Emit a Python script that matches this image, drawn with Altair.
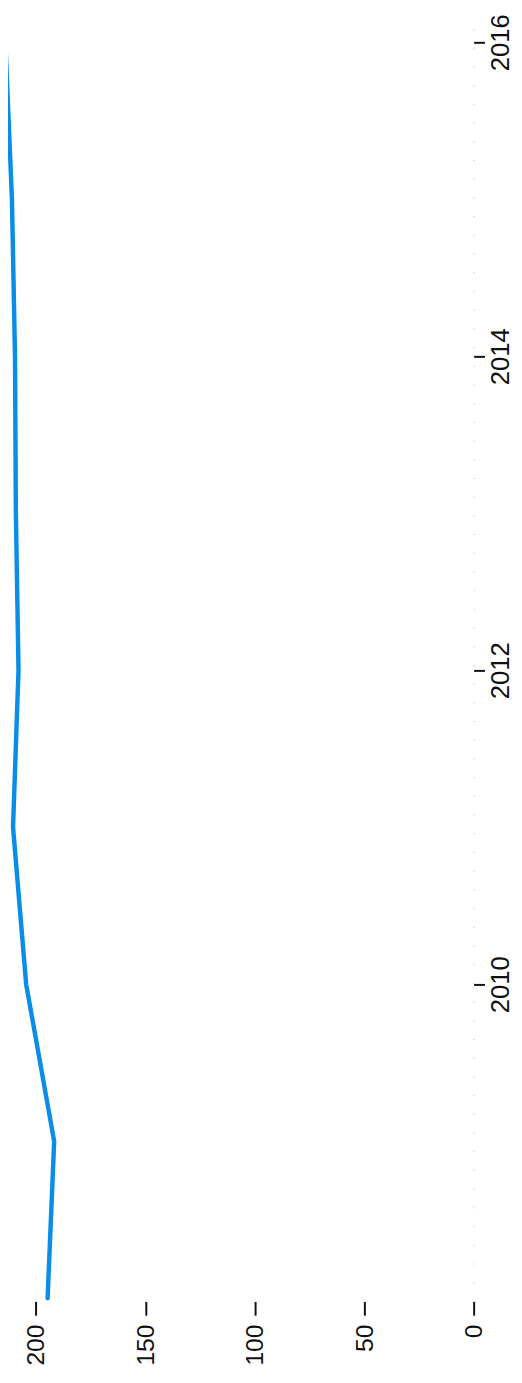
import altair as alt
import pandas as pd

years = [2008, 2009, 2010, 2011, 2012, 2013, 2014, 2015, 2016]
values = [194.7, 191.7, 204.5, 210.5, 208.0, 209.2, 209.6, 211.0, 214.0]
value_ticks = [0, 50, 100, 150, 200]
year_ticks = [2010, 2012, 2014, 2016]

df = pd.DataFrame({"year": years, "value": values})

FONT = "Liberation Sans, Arial, Helvetica, sans-serif"

chart = alt.Chart(df).mark_line(
    color="#0a8de6", strokeWidth=4.5, clip=True, strokeCap="round", strokeJoin="round"
).encode(
    x=alt.X(
        "value:Q",
        scale=alt.Scale(domain=[0, 212.8], reverse=True, nice=False, zero=False),
        axis=alt.Axis(
            orient="bottom", values=value_ticks, title=None, domain=False, grid=False,
            tickSize=14, tickWidth=2, tickColor="#111111",
            labelAngle=270, labelAlign="right", labelBaseline="middle",
            labelPadding=9, labelFontSize=25, labelFont=FONT, labelColor="#111111",
            labelFlush=False, labelOverlap=False,
        ),
    ),
    y=alt.Y(
        "year:Q",
        scale=alt.Scale(domain=[2007.98, 2016.15], nice=False, zero=False),
        axis=alt.Axis(
            orient="right", values=year_ticks, format="d", title=None, grid=False,
            domain=True, domainColor="#bbbbbb", domainDash=[1, 18], domainWidth=1,
            tickSize=11, tickWidth=2, tickColor="#111111",
            labelAngle=270, labelAlign="center", labelBaseline="middle",
            labelPadding=16, labelFontSize=26, labelFont=FONT, labelColor="#111111",
            labelFlush=False, labelOverlap=False,
        ),
    ),
    order=alt.Order("year:Q"),
).properties(
    width=473,
    height=1303,
    padding={"left": 0, "top": 0, "right": 41, "bottom": 72},
    autosize=alt.AutoSizeParams(type="none"),
    background="white",
).configure_view(stroke=None)

chart.save("out.html", embed_options={"renderer": "svg", "actions": False})
